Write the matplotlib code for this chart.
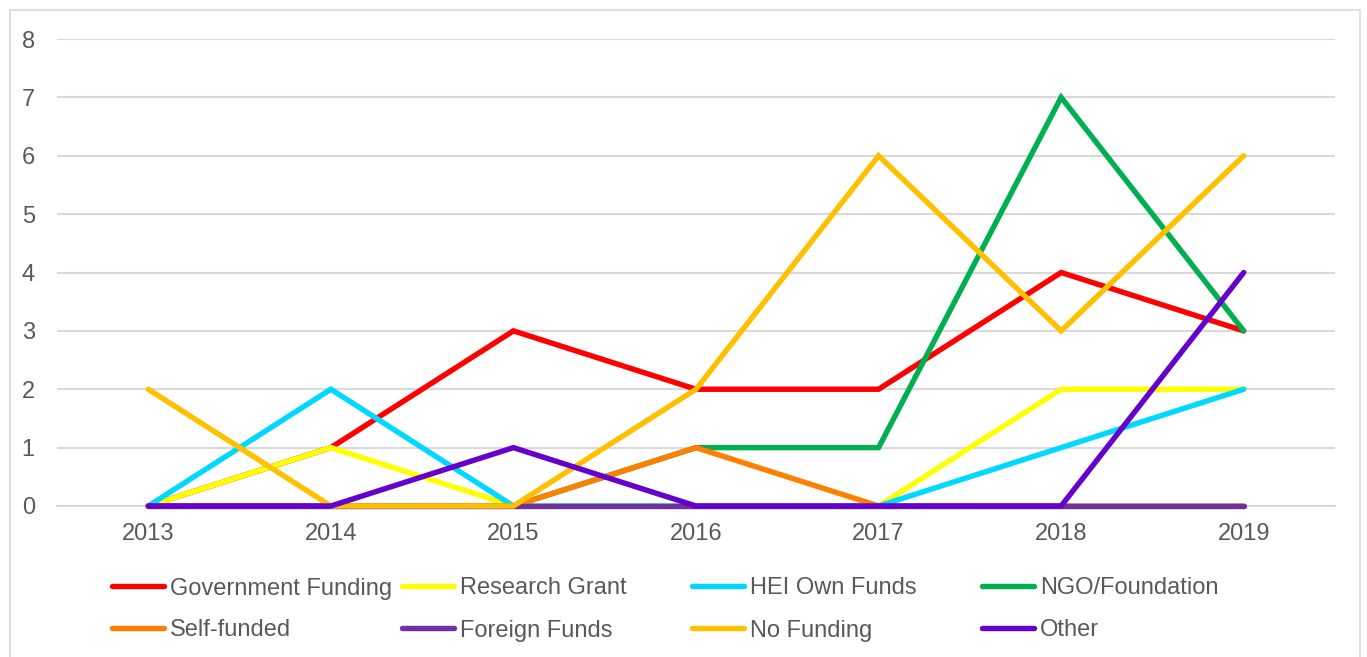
import matplotlib
matplotlib.use("Agg")
import matplotlib.pyplot as plt
from matplotlib.lines import Line2D
from matplotlib.patches import Rectangle

plt.rcParams['font.family'] = ['Liberation Sans', 'DejaVu Sans']

years = ["2013", "2014", "2015", "2016", "2017", "2018", "2019"]
series_names = ["Government Funding", "Research Grant", "HEI Own Funds", "NGO/Foundation",
                "Self-funded", "Foreign Funds", "No Funding", "Other"]
government = [0, 1, 3, 2, 2, 4, 3]
research = [0, 1, 0, 0, 0, 2, 2]
hei_own = [0, 2, 0, 0, 0, 1, 2]
ngo = [0, 0, 0, 1, 1, 7, 3]
self_funded = [0, 0, 0, 1, 0, 0, 0]
foreign = [0, 0, 0, 0, 0, 0, 0]
no_funding = [2, 0, 0, 2, 6, 3, 6]
other = [0, 0, 1, 0, 0, 0, 4]
colors = ["#FF0000", "#FFFF00", "#00D8FF", "#00B050", "#FF8000", "#7030A0", "#FFC000", "#6600CC"]
all_values = [government, research, hei_own, ngo, self_funded, foreign, no_funding, other]

W, H = 1367, 657
fig = plt.figure(figsize=(W / 100, H / 100), dpi=100)
fig.patches.append(Rectangle((10 / W, -0.01), 1350 / W, 1 - 10 / H + 0.01, transform=fig.transFigure,
                             fill=False, edgecolor="#D9D9D9", linewidth=1.2))

ax = fig.add_axes([57 / W, 1 - 506 / H, (1335 - 57) / W, (506 - 39) / H])
x = list(range(len(years)))
for vals, c, name in zip(all_values, colors, series_names):
    ax.plot(x, vals, color=c, linewidth=3.9, solid_capstyle="round", solid_joinstyle="miter",
            label=name, clip_on=False, zorder=3)

ax.set_xlim(-0.5, len(years) - 0.5)
ax.set_ylim(0, 8)
ax.set_yticks(range(0, 9))
ax.set_xticks(x)
ax.set_xticklabels(years)
ax.grid(axis="y", color="#D9D9D9", linewidth=1.5)
ax.set_axisbelow(True)
for s in ["top", "right", "left"]:
    ax.spines[s].set_visible(False)
ax.spines["bottom"].set_color("#D9D9D9")
ax.spines["bottom"].set_linewidth(1.5)
ax.tick_params(axis="both", length=0, labelsize=17, labelcolor="#595959")
ax.tick_params(axis="y", pad=16)
ax.tick_params(axis="x", pad=12)

# legend laid out in fixed-width columns
col_x = [112, 402, 692, 982]
row_y = [586, 628]
for i, (name, c) in enumerate(zip(series_names, colors)):
    cx = col_x[i % 4]
    cy = row_y[i // 4]
    fig.add_artist(Line2D([cx / W, (cx + 52) / W], [1 - cy / H, 1 - cy / H], transform=fig.transFigure,
                          color=c, linewidth=3.9, solid_capstyle="round"))
    fig.text((cx + 58) / W, 1 - cy / H, name, fontsize=17, color="#595959",
             va="center_baseline", ha="left")

fig.savefig("out.png", dpi=100)
